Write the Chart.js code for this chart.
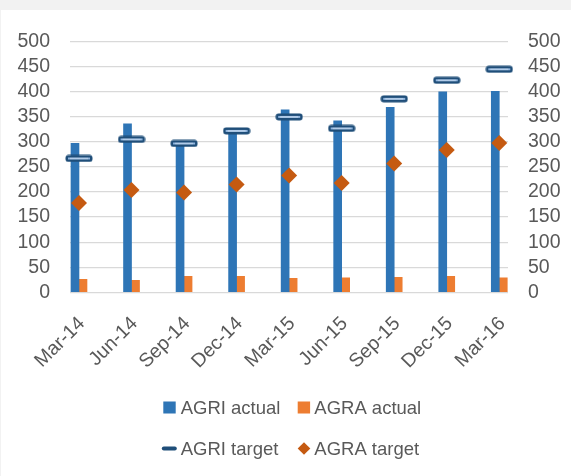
<!DOCTYPE html>
<html><head><meta charset="utf-8">
<script src="https://cdn.jsdelivr.net/npm/chart.js@4/dist/chart.umd.min.js"></script>
<style>
html,body{margin:0;padding:0;background:#f2f2f2;width:571px;height:476px;overflow:hidden}
#wrap{position:absolute;left:1px;top:10px;width:570px;height:466px;background:#fff}
canvas{display:block}
</style></head><body>
<div id="wrap"><canvas id="c" width="570" height="466"></canvas></div>
<script>
const categories = ['Mar-14','Jun-14','Sep-14','Dec-14','Mar-15','Jun-15','Sep-15','Dec-15','Mar-16'];
const agriActual = [297,336,298,322,364,342,369,400,401];
const agraActual = [26,24,32,32,28,29,30,32,29];
const agriTarget = [267,305,297,322,350,327,386,423,445];
const agraTarget = [178,204,199,215,233,218,257,284,298];
const seriesNames = ['AGRI actual','AGRA actual','AGRI target','AGRA target'];
const yTicks = [0,50,100,150,200,250,300,350,400,450,500];

const FONT = 'Liberation Sans';
const TXT = '#595959';
const BLUE = '#2E75B6', ORANGE = '#ED7D31', NAVY = '#1F4E79', DIAMOND = '#C55A11';

function rr(g, x, y, w, h, r) {
  g.beginPath();
  g.moveTo(x + r, y); g.lineTo(x + w - r, y); g.arcTo(x + w, y, x + w, y + r, r);
  g.lineTo(x + w, y + h - r); g.arcTo(x + w, y + h, x + w - r, y + h, r);
  g.lineTo(x + r, y + h); g.arcTo(x, y + h, x, y + h - r, r);
  g.lineTo(x, y + r); g.arcTo(x, y, x + r, y, r); g.closePath();
}
function makeDash() {
  const c = document.createElement('canvas'); c.width = 28; c.height = 8;
  const g = c.getContext('2d');
  g.fillStyle = NAVY; rr(g, 0.5, 0.5, 27, 7, 3); g.fill();
  g.fillStyle = '#8FB4DE'; g.fillRect(3, 3, 22, 2);
  g.fillStyle = '#D6E4F3'; g.fillRect(5, 3.5, 18, 1);
  return c;
}
const dashImg = makeDash();

const pts = arr => arr.map((v, i) => ({x: i, y: v}));

const legendPlugin = {
  id: 'customLegend',
  afterDraw(chart) {
    const ctx = chart.ctx;
    ctx.save();
    ctx.font = '18.5px "' + FONT + '"';
    ctx.fillStyle = TXT;
    ctx.textBaseline = 'alphabetic';
    const colBox = [162.3, 296.7];
    const colText = [179.7, 313.3];
    const rowBase = [403.7, 445];
    const rowMid = [397.5, 438.5];
    seriesNames.forEach((name, i) => {
      const col = i % 2, row = Math.floor(i / 2);
      const bx = colBox[col], my = rowMid[row];
      if (i === 0 || i === 1) {
        ctx.fillStyle = i === 0 ? BLUE : ORANGE;
        ctx.fillRect(bx, my - 6, 12.4, 12);
      } else if (i === 2) {
        ctx.fillStyle = NAVY;
        rr(ctx, bx - 1.5, my - 2, 15, 4, 2); ctx.fill();
      } else {
        ctx.fillStyle = DIAMOND;
        const cx = bx + 6.3;
        ctx.beginPath();
        ctx.moveTo(cx, my - 6.3); ctx.lineTo(cx + 6.3, my); ctx.lineTo(cx, my + 6.3); ctx.lineTo(cx - 6.3, my);
        ctx.closePath(); ctx.fill();
      }
      ctx.fillStyle = TXT;
      ctx.fillText(name, colText[col], rowBase[row]);
    });
    ctx.restore();
  }
};

const yAxisCommon = {
  min: 0, max: 500,
  afterBuildTicks: s => { s.ticks = yTicks.map(v => ({value: v})); },
  ticks: {autoSkip: false, padding: 20, color: TXT, font: {size: 19.5, family: FONT}},
  border: {display: false}
};

new Chart(document.getElementById('c'), {
  data: {
    datasets: [
      {type: 'bar', label: seriesNames[0], data: pts(agriActual), backgroundColor: BLUE, barThickness: 8, order: 2, yAxisID: 'y'},
      {type: 'bar', label: seriesNames[1], data: pts(agraActual), backgroundColor: ORANGE, barThickness: 8, order: 2, yAxisID: 'y'},
      {type: 'line', label: seriesNames[2], data: pts(agriTarget), showLine: false, pointStyle: dashImg, pointRadius: 6, order: 1, yAxisID: 'y2', clip: false},
      {type: 'line', label: seriesNames[3], data: pts(agraTarget), showLine: false, pointStyle: 'rectRot', pointRadius: 8, pointBackgroundColor: DIAMOND, pointBorderWidth: 0, order: 0, yAxisID: 'y2', clip: false}
    ]
  },
  options: {
    responsive: false,
    animation: false,
    layout: {padding: {top: 26, bottom: 83.7, left: 0, right: 0}},
    plugins: {legend: {display: false}, tooltip: {enabled: false}},
    scales: {
      x: {
        type: 'linear', min: -0.171, max: 8.166, offset: false,
        afterBuildTicks: s => { s.ticks = categories.map((_, i) => ({value: i})); },
        afterFit: s => { s.height = 100; },
        ticks: {autoSkip: false, minRotation: 45, maxRotation: 45, padding: 20, labelOffset: 3, color: TXT,
                font: {size: 19.5, family: FONT}, callback: v => categories[v]},
        grid: {display: false, drawTicks: false},
        border: {display: false}
      },
      y: Object.assign({}, yAxisCommon, {
        position: 'left',
        afterFit: s => { s.width = 69; },
        grid: {color: '#d9d9d9', lineWidth: 1.3, drawTicks: false}
      }),
      y2: Object.assign({}, yAxisCommon, {
        position: 'right',
        afterFit: s => { s.width = 63; },
        grid: {display: false, drawTicks: false}
      })
    }
  },
  plugins: [legendPlugin]
});
</script>
</body></html>
